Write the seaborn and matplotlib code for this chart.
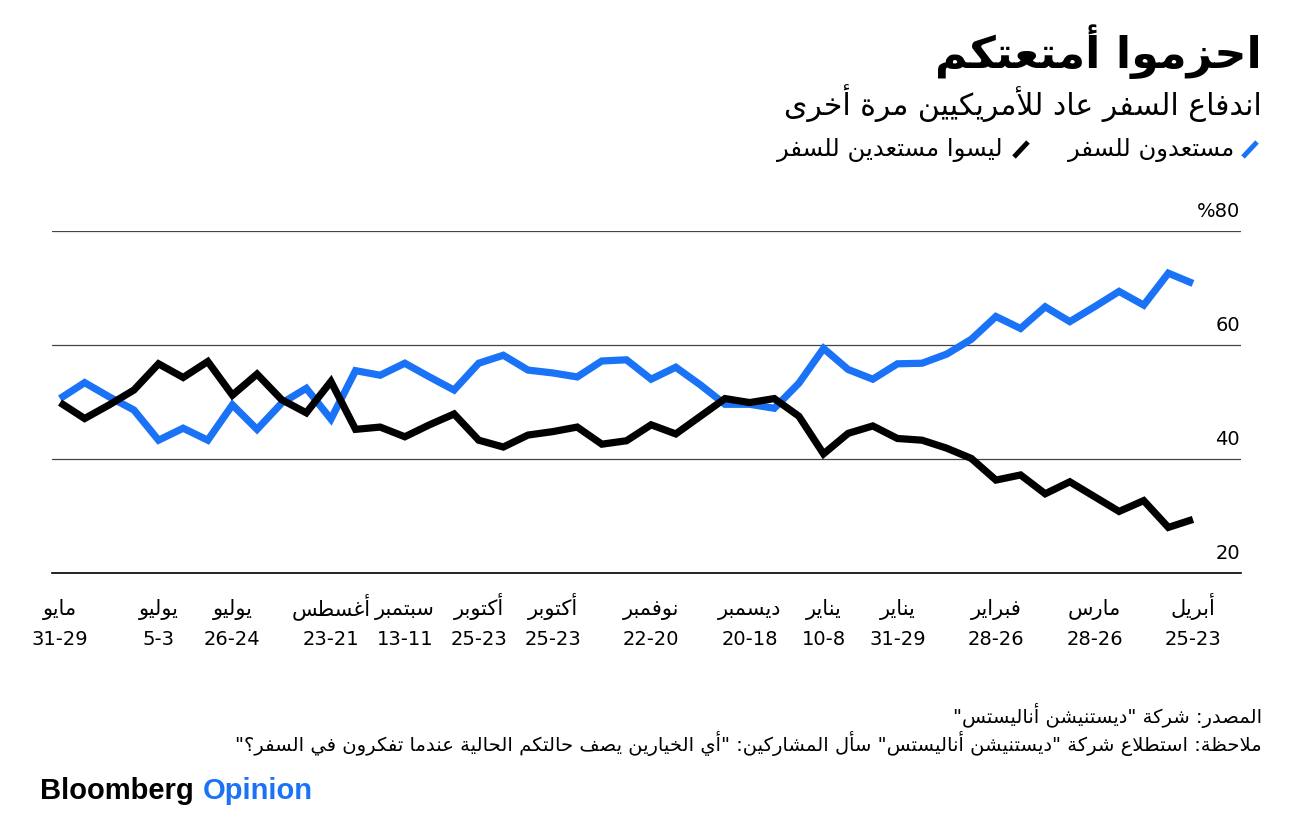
import re
import pandas as pd
import seaborn as sns
import matplotlib.pyplot as plt
import matplotlib.transforms as mtransforms
from matplotlib.lines import Line2D

# survey waves from late May 2020 to late April 2021, share of respondents (%)
ready = [50.6, 53.4, 50.9, 48.6, 43.3, 45.4, 43.3, 49.5, 45.2, 49.8, 52.4, 47.0,
         55.5, 54.7, 56.8, 54.4, 52.1, 56.8, 58.2, 55.6, 55.1, 54.4, 57.2, 57.4,
         54.0, 56.1, 53.0, 49.6, 49.6, 48.9, 53.3, 59.4, 55.7, 54.0, 56.7, 56.8,
         58.4, 61.0, 65.0, 62.9, 66.7, 64.1, 66.7, 69.4, 67.0, 72.6, 70.8]
not_ready = [49.9, 47.1, 49.5, 52.1, 56.7, 54.3, 57.1, 51.2, 54.9, 50.4, 48.1, 53.6,
             45.2, 45.6, 43.9, 46.0, 47.9, 43.3, 42.1, 44.2, 44.8, 45.6, 42.6, 43.2,
             46.0, 44.4, 47.5, 50.6, 49.9, 50.6, 47.5, 40.9, 44.5, 45.8, 43.6, 43.3,
             41.9, 40.1, 36.3, 37.2, 33.9, 36.0, 33.4, 30.8, 32.7, 28.0, 29.4]

# labelled waves
tick_idx = [0, 4, 7, 11, 14, 17, 20, 24, 28, 31, 34, 38, 42, 46]
months = ["مايو", "يوليو", "يوليو", "أغسطس", "سبتمبر", "أكتوبر", "أكتوبر",
          "نوفمبر", "ديسمبر", "يناير", "يناير", "فبراير", "مارس", "أبريل"]
ranges = ["31-29", "5-3", "26-24", "23-21", "13-11", "25-23", "25-23",
          "22-20", "20-18", "10-8", "31-29", "28-26", "28-26", "25-23"]

y_ticks = [20, 40, 60, 80]
y_labels = ["20", "40", "60", "%80"]

series = ["مستعدون للسفر", "ليسوا مستعدين للسفر"]
colors = ["#1a73f6", "#000000"]

title = "احزموا أمتعتكم"
subtitle = "اندفاع السفر عاد للأمريكيين مرة أخرى"
source = 'المصدر: شركة "ديستنيشن أناليستس"'
note = 'ملاحظة: استطلاع شركة "ديستنيشن أناليستس" سأل المشاركين: "أي الخيارين يصف حالتكم الحالية عندما تفكرون في السفر؟"'


# matplotlib has no arabic shaping, so map letters to presentation forms by hand
FORMS = {
    "\u0621": (0xFE80, 1), "\u0622": (0xFE81, 2), "\u0623": (0xFE83, 2),
    "\u0624": (0xFE85, 2), "\u0625": (0xFE87, 2), "\u0626": (0xFE89, 4),
    "\u0627": (0xFE8D, 2), "\u0628": (0xFE8F, 4), "\u0629": (0xFE93, 2),
    "\u062A": (0xFE95, 4), "\u062B": (0xFE99, 4), "\u062C": (0xFE9D, 4),
    "\u062D": (0xFEA1, 4), "\u062E": (0xFEA5, 4), "\u062F": (0xFEA9, 2),
    "\u0630": (0xFEAB, 2), "\u0631": (0xFEAD, 2), "\u0632": (0xFEAF, 2),
    "\u0633": (0xFEB1, 4), "\u0634": (0xFEB5, 4), "\u0635": (0xFEB9, 4),
    "\u0636": (0xFEBD, 4), "\u0637": (0xFEC1, 4), "\u0638": (0xFEC5, 4),
    "\u0639": (0xFEC9, 4), "\u063A": (0xFECD, 4), "\u0641": (0xFED1, 4),
    "\u0642": (0xFED5, 4), "\u0643": (0xFED9, 4), "\u0644": (0xFEDD, 4),
    "\u0645": (0xFEE1, 4), "\u0646": (0xFEE5, 4), "\u0647": (0xFEE9, 4),
    "\u0648": (0xFEED, 2), "\u0649": (0xFEEF, 2), "\u064A": (0xFEF1, 4),
}
LAM_ALEF = {"\u0622": 0xFEF5, "\u0623": 0xFEF7, "\u0625": 0xFEF9, "\u0627": 0xFEFB}


def joins_next(c):
    return c in FORMS and FORMS[c][1] == 4


def shape(text):
    out = []
    i = 0
    n = len(text)
    while i < n:
        c = text[i]
        if c not in FORMS:
            out.append(c)
            i += 1
            continue
        link_prev = i > 0 and joins_next(text[i - 1])
        if c == "\u0644" and i + 1 < n and text[i + 1] in LAM_ALEF:
            out.append(chr(LAM_ALEF[text[i + 1]] + (1 if link_prev else 0)))
            i += 2
            continue
        link_next = joins_next(c) and i + 1 < n and text[i + 1] in FORMS
        base, k = FORMS[c]
        if k == 1:
            g = base
        elif k == 2:
            g = base + (1 if link_prev else 0)
        elif link_prev and link_next:
            g = base + 3
        elif link_prev:
            g = base + 1
        elif link_next:
            g = base + 2
        else:
            g = base
        out.append(chr(g))
        i += 1
    return "".join(out)


def ar(text):
    # shape, then reverse for right-to-left display (keeping digit runs intact)
    tokens = re.findall(r"[0-9A-Za-z%.\-]+|.", shape(text))
    return "".join(reversed(tokens))


sns.set_style("white")
plt.rcParams["font.family"] = ["DejaVu Sans"]
plt.rcParams["text.color"] = "black"

df = pd.DataFrame({
    "wave": list(range(len(ready))) + list(range(len(not_ready))),
    "share": ready + not_ready,
    "group": [series[0]] * len(ready) + [series[1]] * len(not_ready),
})

W, H = 1289, 815
fig = plt.figure(figsize=(W / 100, H / 100), dpi=100)
ax = fig.add_axes([52 / W, 242 / H, 1189 / W, 342 / H])

sns.lineplot(data=df, x="wave", y="share", hue="group", hue_order=series,
             palette=colors, linewidth=5.2, legend=False, ax=ax,
             solid_joinstyle="miter", solid_capstyle="butt", clip_on=False)

ax.set_xlim(-0.325, 47.95)
ax.set_ylim(20, 80)
for side in ["top", "left", "right"]:
    ax.spines[side].set_visible(False)
ax.spines["bottom"].set_color("black")
ax.spines["bottom"].set_linewidth(1.2)

ax.set_yticks(y_ticks)
ax.yaxis.grid(True, color="#444444", linewidth=0.9)
ax.set_axisbelow(True)
ax.tick_params(axis="y", length=0, labelleft=False)

ax.set_xticks(tick_idx)
ax.set_xticklabels([""] * len(tick_idx))
ax.tick_params(axis="x", length=8, width=1, color="#555555")
ax.set_xlabel("")
ax.set_ylabel("")

# two-line date labels on a common baseline
xt = ax.get_xaxis_transform()
month_tr = mtransforms.offset_copy(xt, fig=fig, x=0, y=-42, units="dots")
range_tr = mtransforms.offset_copy(xt, fig=fig, x=0, y=-72, units="dots")
for i, m, r in zip(tick_idx, months, ranges):
    ax.text(i, 0, ar(m), transform=month_tr, ha="center", va="baseline", fontsize=15)
    ax.text(i, 0, r, transform=range_tr, ha="center", va="baseline", fontsize=14)

trans = mtransforms.offset_copy(ax.get_yaxis_transform(), fig=fig, x=-1, y=10, units="dots")
for v, lab in zip(y_ticks, y_labels):
    ax.text(1.0, v, lab, transform=trans, ha="right", va="bottom", fontsize=14)

# header
fig.text(1262 / W, 1 - 52 / H, ar(title), ha="right", va="center",
         fontsize=32, fontweight="bold")
fig.text(1262 / W, 1 - 103 / H, ar(subtitle), ha="right", va="center", fontsize=21.5)

# legend
leg_pos = [(1250, 1234), (1021, 1003)]
for (mx, tx), name, col in zip(leg_pos, series, colors):
    fig.add_artist(Line2D([(mx - 7) / W, (mx + 7) / W], [1 - 157 / H, 1 - 142 / H],
                          color=col, linewidth=3.5, solid_capstyle="butt"))
    fig.text(tx / W, 1 - 150 / H, ar(name), ha="right", va="center", fontsize=17.5)

# footer
fig.text(1262 / W, 1 - 716 / H, ar(source), ha="right", va="center", fontsize=14)
fig.text(1262 / W, 1 - 743 / H, ar(note), ha="right", va="center", fontsize=14)

t1 = fig.text(40 / W, 1 - 791 / H, "Bloomberg", ha="left", va="center",
              fontsize=21, fontweight="bold", family="Liberation Sans", color="black")
fig.canvas.draw()
bb = t1.get_window_extent()
fig.text((bb.x1 + 9) / W, 1 - 791 / H, "Opinion", ha="left", va="center",
         fontsize=21, fontweight="bold", family="Liberation Sans", color=colors[0])

fig.savefig("out.png", dpi=100)
